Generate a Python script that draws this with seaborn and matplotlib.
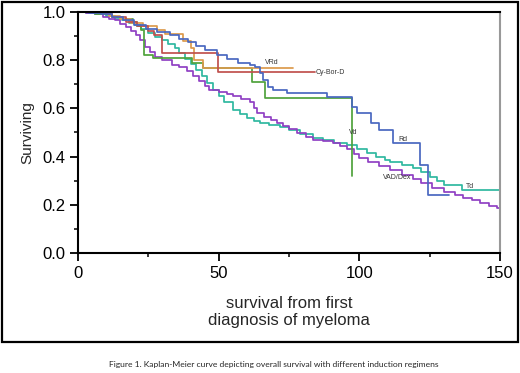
import pandas as pd
import numpy as np
import matplotlib
matplotlib.use('Agg')
import matplotlib.pyplot as plt
import seaborn as sns
from matplotlib.patches import Rectangle
from matplotlib.ticker import MultipleLocator

# 생존 곡선 데이터
rd_t = [0, 4, 8, 12, 16, 20, 24, 28, 32.7, 36, 39, 42, 45, 49.3, 53, 57, 61, 63,
        64.7, 65.9, 67.5, 69.3, 74.2, 88.4, 97.3, 99, 104, 107, 112, 121.6, 124.4, 132]
rd_s = [1.0, 0.995, 0.99, 0.98, 0.965, 0.945, 0.93, 0.918, 0.905, 0.89, 0.875, 0.858, 0.842, 0.82, 0.805, 0.79, 0.78, 0.773,
        0.745, 0.718, 0.69, 0.676, 0.663, 0.649, 0.605, 0.58, 0.54, 0.51, 0.456, 0.365, 0.24, 0.24]

cbd_t = [0, 10, 12, 17, 21, 25, 27, 30, 49.7, 84.2]
cbd_s = [1.0, 0.99, 0.98, 0.96, 0.94, 0.92, 0.905, 0.83, 0.752, 0.752]

vrd_t = [0, 11, 15, 19, 23, 28, 31, 37.4, 40, 41.2, 44.5, 76.5]
vrd_s = [1.0, 0.985, 0.97, 0.955, 0.94, 0.925, 0.907, 0.88, 0.852, 0.80, 0.769, 0.769]

vd_t = [0, 6, 12, 16, 19.5, 21, 22.5, 23.3, 26.7, 40.4, 44.5, 61.7, 66.5, 97.3]
vd_s = [1.0, 0.99, 0.98, 0.97, 0.96, 0.94, 0.925, 0.82, 0.808, 0.787, 0.769, 0.71, 0.642, 0.32]

td_t = [0, 3, 6, 10, 13, 15.5, 18, 20.3, 22.5, 25, 27.5, 29.7, 32, 34.5, 36, 38, 40, 42, 44, 46, 48,
        50, 52, 55, 57.5, 60, 62.5, 64.7, 68, 71.8, 75, 79, 83.5, 87, 91, 95.6, 99, 102.7, 106, 109,
        111, 115, 119, 122, 125, 127.5, 130, 136.5, 150]
td_s = [1.0, 0.997, 0.993, 0.982, 0.972, 0.965, 0.955, 0.945, 0.93, 0.913, 0.898, 0.884, 0.868, 0.85, 0.83, 0.805, 0.785, 0.76, 0.735, 0.705, 0.675,
        0.65, 0.625, 0.595, 0.575, 0.56, 0.548, 0.54, 0.53, 0.523, 0.51, 0.495, 0.478, 0.468, 0.458, 0.448, 0.432, 0.415, 0.398, 0.386,
        0.378, 0.365, 0.353, 0.335, 0.315, 0.298, 0.282, 0.26, 0.26]

vad_t = [0, 3, 6, 9, 11, 13, 15, 17, 19, 20.5, 22, 23.8, 25.5, 27.4, 30, 33.3, 36, 38.7, 41, 43, 45, 46.5,
         50, 53, 55, 58, 61, 62.5, 63.5, 66, 68.5, 70.7, 73, 75, 78, 81, 83.5, 87, 90.6, 93, 95.6, 98,
         100, 103, 107, 111, 115, 119, 122, 126, 130, 134, 137, 140, 143, 146, 149, 150]
vad_s = [1.0, 0.997, 0.99, 0.98, 0.972, 0.965, 0.952, 0.938, 0.92, 0.905, 0.885, 0.856, 0.835, 0.815, 0.80, 0.78, 0.77, 0.755, 0.735, 0.715, 0.695, 0.676,
         0.668, 0.66, 0.652, 0.64, 0.627, 0.60, 0.58, 0.565, 0.552, 0.54, 0.528, 0.515, 0.50, 0.482, 0.469, 0.463, 0.458, 0.445, 0.432, 0.41,
         0.394, 0.378, 0.36, 0.344, 0.325, 0.305, 0.29, 0.27, 0.255, 0.24, 0.228, 0.218, 0.207, 0.197, 0.187, 0.187]

regimens = ['Td', 'VAD/Dex', 'Vd', 'VRd', 'Cy-Bor-D', 'Rd']
times = [td_t, vad_t, vd_t, vrd_t, cbd_t, rd_t]
survs = [td_s, vad_s, vd_s, vrd_s, cbd_s, rd_s]
colors = {'Rd': '#4a68c0', 'Cy-Bor-D': '#c0504d', 'VRd': '#dc9a4c',
          'Vd': '#4fa23c', 'Td': '#2fb8a0', 'VAD/Dex': '#9040c4'}

# 곡선 라벨 위치 (데이터 좌표)
label_x = {'VRd': 69, 'Cy-Bor-D': 84.6, 'Vd': 97.8, 'Rd': 115.5, 'VAD/Dex': 113.4, 'Td': 139.4}
label_y = {'VRd': 0.79, 'Cy-Bor-D': 0.751, 'Vd': 0.498, 'Rd': 0.47, 'VAD/Dex': 0.315, 'Td': 0.276}

df = pd.concat([pd.DataFrame({'time': t, 'surv': s, 'regimen': r})
                for r, t, s in zip(regimens, times, survs)], ignore_index=True)

sns.set_theme(style='ticks')
plt.rcParams['font.family'] = ['Liberation Sans', 'DejaVu Sans']

fig = plt.figure(figsize=(5.2, 3.73), dpi=100)
ax = fig.add_axes([78/520, 120/373, 422/520, 241/373])

sns.lineplot(data=df, x='time', y='surv', hue='regimen', palette=colors,
             estimator=None, drawstyle='steps-post', linewidth=1.25,
             legend=False, ax=ax)

for r in regimens:
    ha = 'left' if r == 'Cy-Bor-D' else 'center'
    ax.text(label_x[r], label_y[r], r, fontsize=5, ha=ha, va='center', color='#333333')

ax.set_xlim(0, 150)
ax.set_ylim(0, 1.0)
ax.xaxis.set_major_locator(MultipleLocator(50))
ax.xaxis.set_minor_locator(MultipleLocator(25))
ax.yaxis.set_major_locator(MultipleLocator(0.2))
ax.yaxis.set_minor_locator(MultipleLocator(0.1))
ax.yaxis.set_major_formatter(matplotlib.ticker.FormatStrFormatter('%.1f'))
ax.tick_params(which='major', length=6, width=1.3, labelsize=12, colors='black', pad=3)
ax.tick_params(which='minor', length=3, width=1.3)

for side in ['left', 'bottom', 'top']:
    ax.spines[side].set_color('black')
    ax.spines[side].set_linewidth(1.5)
ax.spines['right'].set_color('#999999')
ax.spines['right'].set_linewidth(1.5)

ax.set_ylabel('Surviving', fontsize=11, labelpad=6)
ax.set_xlabel('survival from first\ndiagnosis of myeloma', fontsize=12, labelpad=11)

# 바깥 테두리와 그림 설명
fig.patches.append(Rectangle((2/520, 31/373), 516/520, 340/373, transform=fig.transFigure,
                             fill=False, edgecolor='black', linewidth=1.6))
fig.text(274/520, 1 - 365/373,
         'Figure 1. Kaplan-Meier curve depicting overall survival with different induction regimens',
         fontsize=6.1, ha='center', va='center', family=['Lato', 'DejaVu Sans'])

fig.savefig('out.png', dpi=100)
plt.close()
